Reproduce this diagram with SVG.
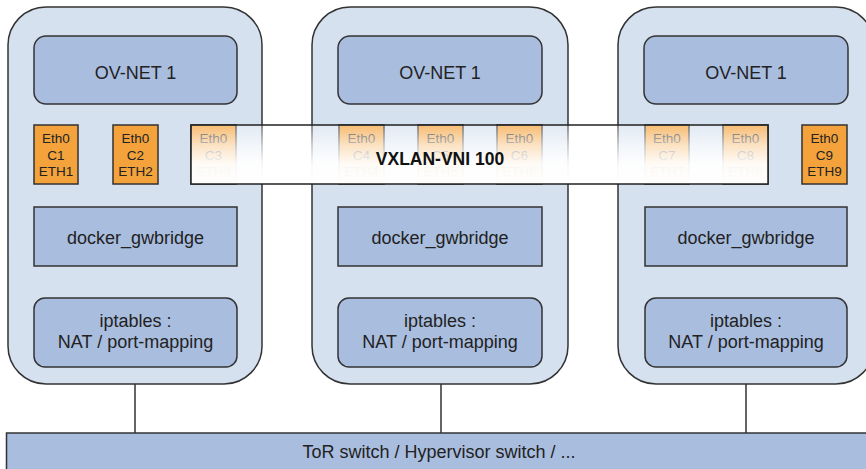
<svg xmlns="http://www.w3.org/2000/svg" width="866" height="469" viewBox="0 0 866 469">
<defs>
<style>
.host{fill:#d6e1ef;stroke:#333;stroke-width:1.5}
.blk{fill:#a9bddf;stroke:#333;stroke-width:1.5}
.eth{fill:#f4a23c;stroke:#333;stroke-width:1.5}
.ln{stroke:#333;stroke-width:1.5;fill:none}
.t{font-family:"Liberation Sans",Arial,sans-serif;font-size:18px;fill:#222;text-anchor:middle}
.e{font-family:"Liberation Sans",Arial,sans-serif;font-size:13.5px;fill:#222;text-anchor:middle}
.b{font-family:"Liberation Sans",Arial,sans-serif;font-size:17.5px;font-weight:bold;fill:#111;text-anchor:middle}
</style>
<linearGradient id="fade" x1="0" y1="0" x2="0" y2="1">
<stop offset="0" stop-color="#fff" stop-opacity="0.28"/>
<stop offset="0.35" stop-color="#fff" stop-opacity="0.7"/>
<stop offset="0.65" stop-color="#fff" stop-opacity="0.95"/>
<stop offset="1" stop-color="#fff" stop-opacity="1"/>
</linearGradient>
</defs>
<rect width="866" height="469" fill="#fff"/>

<g id="connectors">
<path class="ln" d="M57 104V125M135 104V125M214 104V125M57 184V207M135 184V207M214 184V207"/>
<path class="ln" d="M362 104V125M441 104V125M520 104V125M362 184V207M441 184V207M520 184V207"/>
<path class="ln" d="M667 104V125M746 104V125M825 104V125M667 184V207M746 184V207M825 184V207"/>
<path class="ln" d="M135 384V433M441 384V433M746 384V433"/>
</g>

<g id="host1">
<rect class="host" x="8" y="7" width="254" height="377" rx="38"/>
<g id="ovnet1"><rect class="blk" x="34" y="36" width="203" height="68" rx="12"/><text class="t" x="135.5" y="79">OV-NET 1</text></g>
<g id="c1"><rect class="eth" x="34" y="125" width="44" height="59"/><text class="e" x="56" y="143">Eth0</text><text class="e" x="56" y="159.5">C1</text><text class="e" x="56" y="176">ETH1</text></g>
<g id="c2"><rect class="eth" x="113" y="125" width="45" height="59"/><text class="e" x="135.5" y="143">Eth0</text><text class="e" x="135.5" y="159.5">C2</text><text class="e" x="135.5" y="176">ETH2</text></g>
<g id="c3"><rect class="eth" x="191" y="125" width="45" height="59"/><text class="e" x="213.5" y="143">Eth0</text><text class="e" x="213.5" y="159.5">C3</text><text class="e" x="213.5" y="176">ETH3</text></g>
<g id="bridge1"><rect class="blk" x="34" y="207" width="203" height="59"/><text class="t" x="135.5" y="243.5">docker_gwbridge</text></g>
<g id="ipt1"><rect class="blk" x="34" y="298" width="203" height="69" rx="11"/><text class="t" x="135.5" y="327">iptables :</text><text class="t" x="135.5" y="348">NAT / port-mapping</text></g>
</g>

<g id="host2">
<rect class="host" x="312" y="7" width="256" height="377" rx="38"/>
<g id="ovnet2"><rect class="blk" x="338" y="36" width="204" height="68" rx="12"/><text class="t" x="440" y="79">OV-NET 1</text></g>
<g id="c4"><rect class="eth" x="339" y="125" width="45" height="59"/><text class="e" x="361.5" y="143">Eth0</text><text class="e" x="361.5" y="159.5">C4</text><text class="e" x="361.5" y="176">ETH4</text></g>
<g id="c5"><rect class="eth" x="418" y="125" width="45" height="59"/><text class="e" x="440.5" y="143">Eth0</text><text class="e" x="440.5" y="159.5">C5</text><text class="e" x="440.5" y="176">ETH5</text></g>
<g id="c6"><rect class="eth" x="497" y="125" width="45" height="59"/><text class="e" x="519.5" y="143">Eth0</text><text class="e" x="519.5" y="159.5">C6</text><text class="e" x="519.5" y="176">ETH6</text></g>
<g id="bridge2"><rect class="blk" x="338" y="207" width="204" height="59"/><text class="t" x="440" y="243.5">docker_gwbridge</text></g>
<g id="ipt2"><rect class="blk" x="338" y="298" width="204" height="69" rx="11"/><text class="t" x="440" y="327">iptables :</text><text class="t" x="440" y="348">NAT / port-mapping</text></g>
</g>

<g id="host3">
<rect class="host" x="618" y="7" width="256" height="377" rx="38"/>
<g id="ovnet3"><rect class="blk" x="644" y="36" width="204" height="68" rx="12"/><text class="t" x="746" y="79">OV-NET 1</text></g>
<g id="c7"><rect class="eth" x="645" y="125" width="44" height="59"/><text class="e" x="667" y="143">Eth0</text><text class="e" x="667" y="159.5">C7</text><text class="e" x="667" y="176">ETH7</text></g>
<g id="c8"><rect class="eth" x="723" y="125" width="45" height="59"/><text class="e" x="745.5" y="143">Eth0</text><text class="e" x="745.5" y="159.5">C8</text><text class="e" x="745.5" y="176">ETH8</text></g>
<g id="c9"><rect class="eth" x="802" y="125" width="45" height="59"/><text class="e" x="824.5" y="143">Eth0</text><text class="e" x="824.5" y="159.5">C9</text><text class="e" x="824.5" y="176">ETH9</text></g>
<g id="bridge3"><rect class="blk" x="645" y="207" width="202" height="59"/><text class="t" x="746" y="243.5">docker_gwbridge</text></g>
<g id="ipt3"><rect class="blk" x="645" y="298" width="202" height="69" rx="11"/><text class="t" x="746" y="327">iptables :</text><text class="t" x="746" y="348">NAT / port-mapping</text></g>
</g>

<g id="vxlan">
<rect x="191" y="125" width="577" height="59" fill="url(#fade)" stroke="#222" stroke-width="1.5"/>
<text class="b" x="440" y="165">VXLAN-VNI 100</text>
</g>

<g id="tor">
<rect class="blk" x="6.5" y="433" width="870" height="45"/>
<text class="t" x="439" y="458">ToR switch / Hypervisor switch / ...</text>
</g>
</svg>
